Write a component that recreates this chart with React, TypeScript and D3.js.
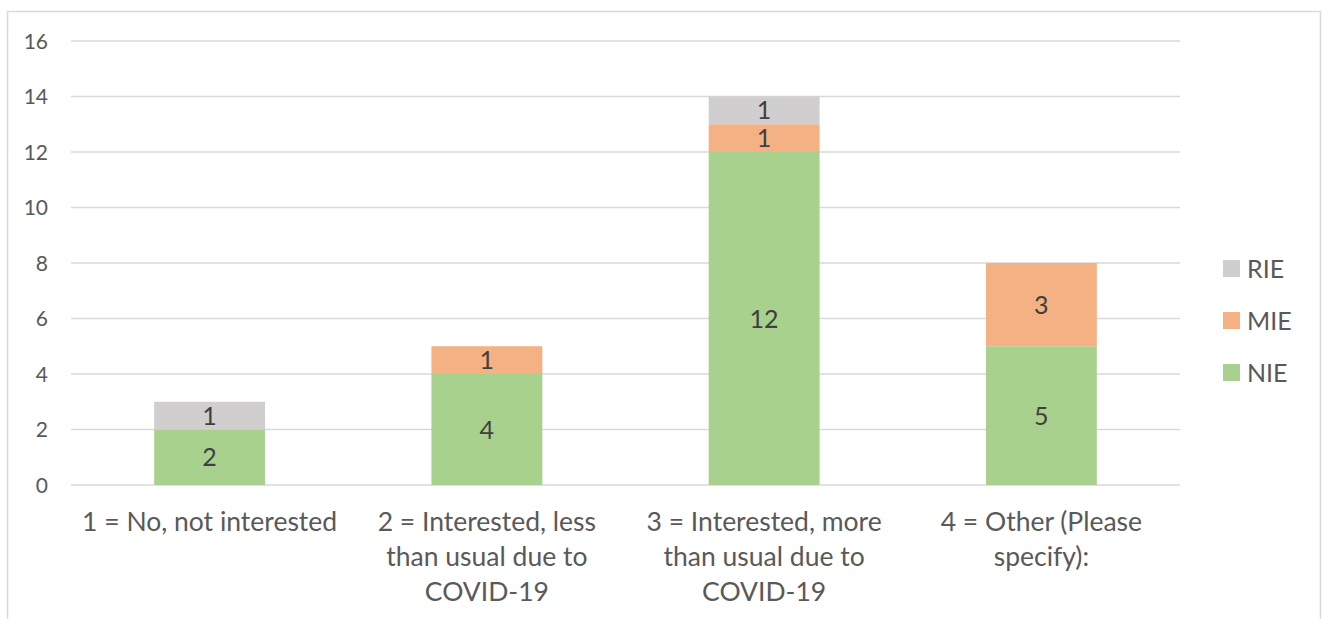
import React from "react";
import * as d3 from "d3";

const categories = [
  ["1 = No, not interested"],
  ["2 = Interested, less", "than usual due to", "COVID-19"],
  ["3 = Interested, more", "than usual due to", "COVID-19"],
  ["4 = Other (Please", "specify):"],
];
const seriesNames = ["NIE", "MIE", "RIE"];
const NIE = [2, 4, 12, 5];
const MIE = [0, 1, 1, 3];
const RIE = [1, 0, 1, 0];
const yTicks = [0, 2, 4, 6, 8, 10, 12, 14, 16];
const colors = ["#A9D18E", "#F4B183", "#D0CECE"];

export default function App() {
  const W = 1323, H = 619;
  const left = 71, right = 1180, top = 41, bottom = 485;
  const x = d3.scaleBand<number>().domain([0, 1, 2, 3]).range([left, right]).padding(0);
  const y = d3.scaleLinear().domain([0, 16]).range([bottom, top]);
  const barW = x.bandwidth() * 0.4;
  const rows = categories.map((_, i) => ({ NIE: NIE[i], MIE: MIE[i], RIE: RIE[i] }));
  const stack = d3.stack<any>().keys(seriesNames)(rows);
  const font = "Lato, 'Open Sans', sans-serif";
  return (
    <svg width={W} height={H} style={{ position: "absolute", left: 0, top: 0 }} fontFamily={font}>
      <rect x={7.5} y={11.5} width={1313} height={700} fill="#fff" stroke="#D9D9D9" strokeWidth={1.5} />
      {yTicks.map((t) => (
        <g key={t}>
          <line x1={left} x2={right} y1={y(t)} y2={y(t)} stroke="#D9D9D9" strokeWidth={1.5} />
          <text x={48} y={y(t)} dy="0.36em" textAnchor="end" fontSize={21} fill="#595959">{t}</text>
        </g>
      ))}
      {stack.map((s, si) =>
        s.map((d, i) => {
          const v = d[1] - d[0];
          if (v <= 0) return null;
          const bx = (x(i) as number) + x.bandwidth() / 2 - barW / 2;
          return (
            <g key={si + "-" + i}>
              <rect x={bx} y={y(d[1])} width={barW} height={y(d[0]) - y(d[1])} fill={colors[si]} />
              <text x={bx + barW / 2} y={(y(d[0]) + y(d[1])) / 2} dy="0.36em" textAnchor="middle" fontSize={25} fill="#404040">{v}</text>
            </g>
          );
        })
      )}
      {categories.map((lines, i) => (
        <text key={i} x={(x(i) as number) + x.bandwidth() / 2} textAnchor="middle" fontSize={26.5} fill="#595959">
          {lines.map((l, li) => (
            <tspan key={li} x={(x(i) as number) + x.bandwidth() / 2} y={531 + li * 35}>{l}</tspan>
          ))}
        </text>
      ))}
      {[2, 1, 0].map((si, k) => (
        <g key={si} transform={`translate(1223, ${260 + k * 52})`}>
          <rect width={17} height={17} fill={colors[si]} />
          <text x={24} y={8.5} dy="0.36em" fontSize={25} fill="#595959">{seriesNames[si]}</text>
        </g>
      ))}
    </svg>
  );
}
